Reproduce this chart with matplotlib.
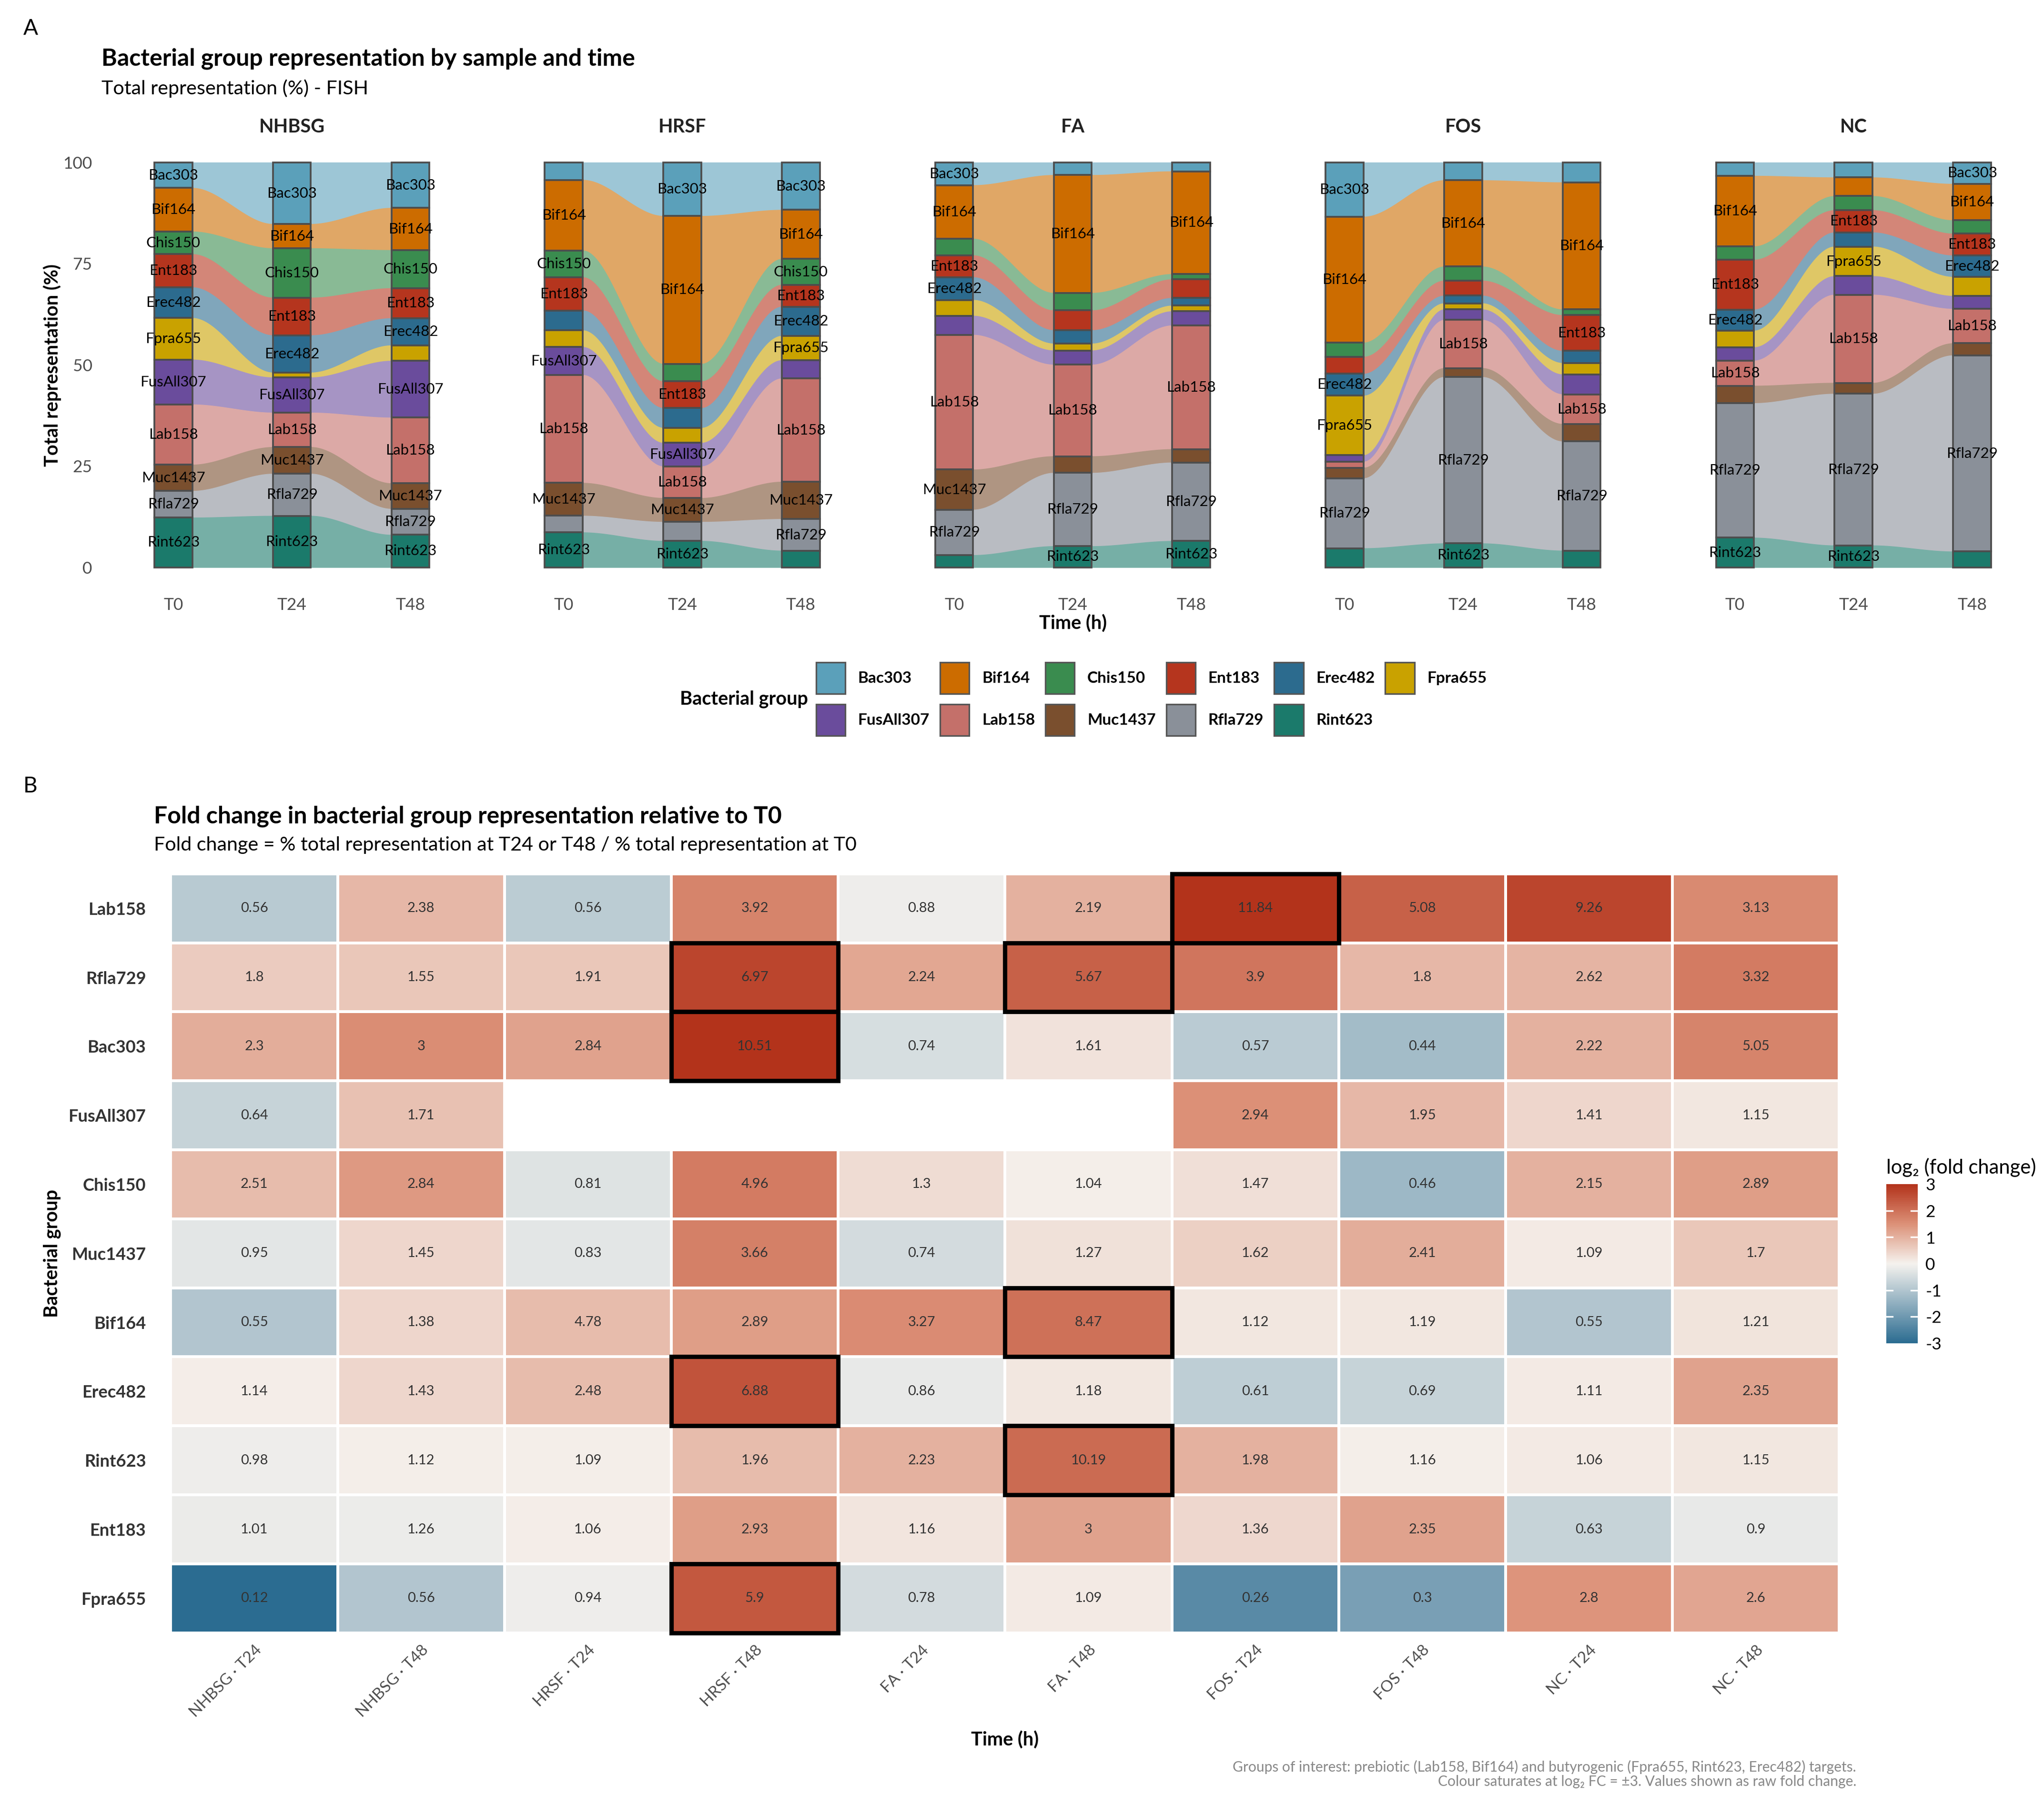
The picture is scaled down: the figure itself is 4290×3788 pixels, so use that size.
import numpy as np
import matplotlib
matplotlib.use("Agg")
import matplotlib.pyplot as plt
from matplotlib.colors import LinearSegmentedColormap, Normalize, to_rgb
from matplotlib.patches import Patch, Rectangle
import matplotlib.cm as cm

plt.rcParams['font.family'] = ['Lato', 'DejaVu Sans']
plt.rcParams['axes.unicode_minus'] = False

# ---- panel A data: % total representation (FISH), order = groups ----
groups = ["Bac303", "Bif164", "Chis150", "Ent183", "Erec482", "Fpra655",
          "FusAll307", "Lab158", "Muc1437", "Rfla729", "Rint623"]
group_colors = ["#5BA0BA", "#CC6C00", "#3A8C4F", "#B5351E", "#2C6B8E", "#C9A200",
                "#6A4C9C", "#C4706A", "#7A4F2E", "#8A9099", "#1B7A6B"]
times = ["T0", "T24", "T48"]
samples = ["NHBSG", "HRSF", "FA", "FOS", "NC"]

nhbsg_pct = [[6.3, 10.8, 5.6, 8.2, 7.6, 10.3, 11.1, 14.9, 6.5, 6.6, 12.3],
             [15.2, 6.0, 12.2, 9.3, 9.2, 1.2, 8.7, 8.5, 6.6, 10.4, 12.7],
             [11.2, 10.4, 9.4, 7.4, 6.7, 3.8, 14.0, 16.2, 6.3, 6.4, 8.0]]
hrsf_pct = [[4.3, 17.4, 6.6, 8.2, 4.9, 4.1, 6.9, 26.6, 8.1, 4.1, 8.6],
            [13.2, 36.5, 4.3, 6.6, 4.9, 3.7, 5.8, 7.8, 5.9, 4.7, 6.5],
            [11.7, 12.1, 6.4, 5.4, 7.2, 6.0, 4.5, 25.5, 9.2, 7.8, 4.1]]
fa_pct = [[5.6, 13.2, 4.1, 5.4, 5.6, 3.9, 4.7, 33.2, 9.9, 11.2, 3.0],
          [3.1, 29.1, 4.3, 4.9, 3.3, 1.7, 3.5, 22.6, 4.1, 18.1, 5.2],
          [2.2, 25.4, 1.3, 4.6, 1.9, 1.4, 3.5, 30.6, 3.3, 19.4, 6.5]]
fos_pct = [[13.4, 31.1, 3.5, 4.2, 5.4, 14.7, 1.6, 1.5, 2.6, 17.3, 4.7],
           [4.4, 21.3, 3.5, 3.7, 1.9, 1.5, 2.6, 11.9, 2.2, 41.1, 5.9],
           [4.9, 31.3, 1.4, 8.8, 3.0, 2.8, 4.9, 7.3, 4.3, 26.9, 4.1]]
nc_pct = [[3.3, 17.4, 3.3, 12.3, 5.2, 4.1, 3.3, 6.2, 4.3, 33.2, 7.3],
          [3.7, 4.6, 3.5, 5.5, 3.5, 7.3, 4.6, 21.8, 2.7, 37.5, 5.4],
          [5.3, 9.0, 3.3, 5.4, 5.3, 4.7, 3.2, 8.5, 3.0, 48.5, 3.9]]
sample_pct = [nhbsg_pct, hrsf_pct, fa_pct, fos_pct, nc_pct]

# ---- panel B data: fold change vs T0 (labels) ----
fc_columns = ["NHBSG · T24", "NHBSG · T48", "HRSF · T24", "HRSF · T48", "FA · T24",
              "FA · T48", "FOS · T24", "FOS · T48", "NC · T24", "NC · T48"]
fc_rows = ["Lab158", "Rfla729", "Bac303", "FusAll307", "Chis150", "Muc1437",
           "Bif164", "Erec482", "Rint623", "Ent183", "Fpra655"]
fc_lab158 = [0.56, 2.38, 0.56, 3.92, 0.88, 2.19, 11.84, 5.08, 9.26, 3.13]
fc_rfla729 = [1.8, 1.55, 1.91, 6.97, 2.24, 5.67, 3.9, 1.8, 2.62, 3.32]
fc_bac303 = [2.3, 3, 2.84, 10.51, 0.74, 1.61, 0.57, 0.44, 2.22, 5.05]
fc_fusall307 = [0.64, 1.71, np.nan, np.nan, np.nan, np.nan, 2.94, 1.95, 1.41, 1.15]
fc_chis150 = [2.51, 2.84, 0.81, 4.96, 1.3, 1.04, 1.47, 0.46, 2.15, 2.89]
fc_muc1437 = [0.95, 1.45, 0.83, 3.66, 0.74, 1.27, 1.62, 2.41, 1.09, 1.7]
fc_bif164 = [0.55, 1.38, 4.78, 2.89, 3.27, 8.47, 1.12, 1.19, 0.55, 1.21]
fc_erec482 = [1.14, 1.43, 2.48, 6.88, 0.86, 1.18, 0.61, 0.69, 1.11, 2.35]
fc_rint623 = [0.98, 1.12, 1.09, 1.96, 2.23, 10.19, 1.98, 1.16, 1.06, 1.15]
fc_ent183 = [1.01, 1.26, 1.06, 2.93, 1.16, 3, 1.36, 2.35, 0.63, 0.9]
fc_fpra655 = [0.12, 0.56, 0.94, 5.9, 0.78, 1.09, 0.26, 0.3, 2.8, 2.6]

# colour values (log2 FC used for the fill)
fill_lab158 = [-0.9, 0.91, -0.85, 1.7, -0.1, 1.0, 3.0, 2.25, 2.7, 1.6]
fill_rfla729 = [0.6, 0.67, 0.67, 2.7, 1.15, 2.25, 1.93, 0.9, 0.95, 1.85]
fill_bac303 = [1.07, 1.55, 1.22, 3.0, -0.45, 0.24, -0.88, -1.2, 0.99, 1.7]
fill_fusall307 = [-0.68, 0.75, np.nan, np.nan, np.nan, np.nan, 1.5, 0.9, 0.44, 0.17]
fill_chis150 = [0.83, 1.38, -0.33, 1.85, 0.33, 0.05, 0.3, -1.3, 1.0, 1.3]
fill_muc1437 = [-0.28, 0.44, -0.28, 1.77, -0.5, 0.28, 0.52, 1.07, 0.12, 0.67]
fill_bif164 = [-1.0, 0.44, 0.83, 1.3, 1.58, 2.0, 0.17, 0.17, -1.0, 0.23]
fill_erec482 = [0.08, 0.44, 0.83, 2.48, -0.2, 0.17, -0.8, -0.7, 0.12, 1.22]
fill_rint623 = [-0.1, 0.05, 0.05, 0.83, 1.0, 2.1, 1.0, 0.05, 0.12, 0.17]
fill_ent183 = [-0.15, -0.12, 0.08, 1.3, 0.2, 1.22, 0.4, 1.22, -0.68, -0.2]
fill_fpra655 = [-3.0, -1.0, -0.1, 2.4, -0.5, 0.12, -2.3, -1.85, 1.45, 1.18]

highlight_cells = [("Lab158", "FOS · T24"), ("Rfla729", "HRSF · T48"),
                   ("Rfla729", "FA · T48"), ("Bac303", "HRSF · T48"),
                   ("Bif164", "FA · T48"), ("Erec482", "HRSF · T48"),
                   ("Rint623", "FA · T48"), ("Fpra655", "HRSF · T48")]

fig = plt.figure(figsize=(14.3, 12.6267), dpi=300)
W, H = 1568.0, 1384.0  # layout measured on a 1568-wide view


def fx(x):
    return x / W


def fy(y):
    return 1 - y / H


def lighten(c, a=0.6):
    r = np.array(to_rgb(c))
    return tuple(a * r + (1 - a))


# ---------------- panel A ----------------
bw = 0.32
xs = np.arange(1, 4)
for i, (name, pct) in enumerate(zip(samples, sample_pct)):
    ax = fig.add_axes([fx(78.4 + i * 299.5), fy(450.5), fx(291), 0.2467])
    p = np.asarray(pct, float)
    p = p / p.sum(axis=1, keepdims=True) * 100
    tops = 100 - np.cumsum(p, axis=1) + p
    bots = tops - p
    for t in range(2):
        xa, xb = xs[t] + bw / 2, xs[t + 1] - bw / 2
        xx = np.linspace(xa, xb, 100)
        s = (xx - xa) / (xb - xa)
        k = s * s * (3 - 2 * s)
        for g in range(len(groups)):
            lo = bots[t, g] + (bots[t + 1, g] - bots[t, g]) * k
            hi = tops[t, g] + (tops[t + 1, g] - tops[t, g]) * k
            lc = lighten(group_colors[g])
            ax.fill_between(xx, lo, hi, color=lc, lw=0.3, ec=lc)
    for t in range(3):
        ax.bar(np.full(len(groups), xs[t]), p[t], bottom=bots[t], width=bw,
               color=group_colors, edgecolor="#4d4d4d", linewidth=0.9, zorder=3)
        for g in range(len(groups)):
            if p[t, g] > 5:
                ax.text(xs[t], bots[t, g] + p[t, g] / 2, groups[g], ha="center",
                        va="center", fontsize=7.5, color="black", zorder=4)
    ax.set_xlim(0.4, 3.6)
    ax.set_ylim(-5, 105)
    ax.set_xticks(xs)
    ax.set_xticklabels(times, fontsize=8.5, color="#4d4d4d")
    ax.set_yticks([0, 25, 50, 75, 100])
    if i == 0:
        ax.set_yticklabels(["0", "25", "50", "75", "100"], fontsize=8.5, color="#4d4d4d")
    else:
        ax.set_yticklabels([])
    ax.tick_params(length=0, pad=5)
    for sp in ax.spines.values():
        sp.set_visible(False)
    ax.set_title(name, fontsize=9.5, fontweight="bold", color="#222222", pad=5)

fig.text(fx(18), fy(22), "A", fontsize=11, va="center")
fig.text(fx(78), fy(45), "Bacterial group representation by sample and time",
         fontsize=12, fontweight="bold", va="center")
fig.text(fx(78), fy(68), "Total representation (%) - FISH", fontsize=9.9, va="center")
fig.text(fx(823), fy(478), "Time (h)", fontsize=9.5, fontweight="bold", ha="center", va="center")
fig.text(fx(40), fy(280), "Total representation (%)", fontsize=9.5, fontweight="bold",
         rotation=90, ha="center", va="center")

# legend, filled row-wise
order = [0, 6, 1, 7, 2, 8, 3, 9, 4, 10, 5]
handles = [Patch(facecolor=group_colors[g], edgecolor="#555555", linewidth=0.8,
                 label=groups[g]) for g in order]
fig.legend(handles=handles, ncol=6, loc="center left", bbox_to_anchor=(fx(626), fy(536)),
           frameon=False, borderpad=0, borderaxespad=0, handlelength=1.84, handleheight=2.66,
           handletextpad=0.8, columnspacing=0.66, labelspacing=0.65,
           prop={"weight": "bold", "size": 8})
fig.text(fx(620), fy(536), "Bacterial group", fontsize=9.5, fontweight="bold",
         ha="right", va="center")

# ---------------- panel B ----------------
fc = np.array([fc_lab158, fc_rfla729, fc_bac303, fc_fusall307, fc_chis150, fc_muc1437,
               fc_bif164, fc_erec482, fc_rint623, fc_ent183, fc_fpra655], float)
fill = np.array([fill_lab158, fill_rfla729, fill_bac303, fill_fusall307, fill_chis150,
                 fill_muc1437, fill_bif164, fill_erec482, fill_rint623, fill_ent183,
                 fill_fpra655], float)
cmap = LinearSegmentedColormap.from_list(
    "fc", [(0.0, "#2B6C91"), (0.5, "#F5F2EE"), (0.75, "#DC9178"), (1.0, "#B3331B")])
cmap.set_bad("white")
norm = Normalize(-3, 3)

axh = fig.add_axes([fx(131), fy(1252), fx(1280), fy(670) - fy(1252)])
axh.pcolormesh(np.ma.masked_invalid(np.clip(fill, -3, 3)), cmap=cmap, norm=norm,
               edgecolors="white", linewidth=1.0)
for r in range(fc.shape[0]):
    for c in range(fc.shape[1]):
        if not np.isnan(fc[r, c]):
            axh.text(c + 0.5, r + 0.5, f"{fc[r, c]:g}", ha="center", va="center",
                     fontsize=7, color="#333333")
for rn, cn in highlight_cells:
    axh.add_patch(Rectangle((fc_columns.index(cn), fc_rows.index(rn)), 1, 1, fill=False,
                            ec="black", lw=2.2, zorder=5, clip_on=False))
axh.set_xlim(0, len(fc_columns))
axh.set_ylim(len(fc_rows), 0)
axh.set_xticks(np.arange(len(fc_columns)) + 0.5)
axh.set_xticklabels(fc_columns, rotation=45, ha="right", rotation_mode="anchor",
                    fontsize=8, color="#4d4d4d")
axh.set_yticks(np.arange(len(fc_rows)) + 0.5)
axh.set_yticklabels(fc_rows, fontsize=8.7, fontweight="bold", color="#333333")
axh.tick_params(axis="y", length=0, pad=12.5)
axh.tick_params(axis="x", length=0, pad=5)
for sp in axh.spines.values():
    sp.set_visible(False)

fig.text(fx(18), fy(603), "B", fontsize=11, va="center")
fig.text(fx(118), fy(626), "Fold change in bacterial group representation relative to T0",
         fontsize=12, fontweight="bold", va="center")
fig.text(fx(118), fy(648),
         "Fold change = % total representation at T24 or T48 / % total representation at T0",
         fontsize=9.9, va="center")
fig.text(fx(771), fy(1334), "Time (h)", fontsize=9.5, fontweight="bold", ha="center", va="center")
fig.text(fx(40), fy(961), "Bacterial group", fontsize=9.5, fontweight="bold",
         rotation=90, ha="center", va="center")

# colour bar
cax = fig.add_axes([fx(1447), fy(1030), fx(24), fy(908) - fy(1030)])
cb = fig.colorbar(cm.ScalarMappable(norm=norm, cmap=cmap), cax=cax, ticks=[-3, -2, -1, 0, 1, 2, 3])
cb.outline.set_visible(False)
cb.ax.tick_params(length=0, labelsize=8.5, pad=4)
for v in [-2, -1, 1, 2]:
    cax.plot([0, 0.2], [v, v], color="white", lw=0.8, transform=cax.get_yaxis_transform())
    cax.plot([0.8, 1], [v, v], color="white", lw=0.8, transform=cax.get_yaxis_transform())
fig.text(fx(1447), fy(895), "log₂ (fold change)", fontsize=10, va="center")

fig.text(fx(1424), fy(1355),
         "Groups of interest: prebiotic (Lab158, Bif164) and butyrogenic (Fpra655, Rint623, Erec482) targets.",
         fontsize=7.2, color="#888888", ha="right", va="center")
fig.text(fx(1424), fy(1366),
         "Colour saturates at log₂ FC = ±3. Values shown as raw fold change.",
         fontsize=7.2, color="#888888", ha="right", va="center")

fig.savefig("out.png", dpi=300, facecolor="white")
